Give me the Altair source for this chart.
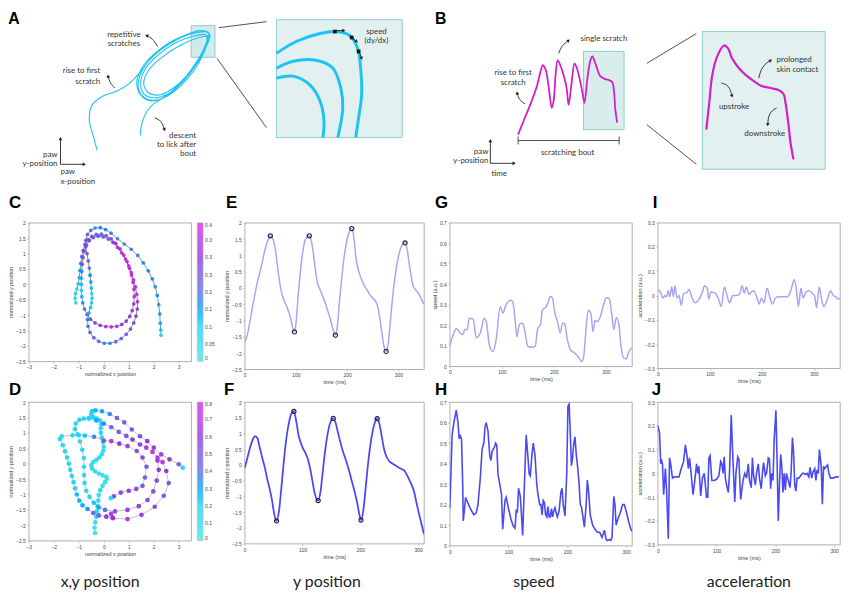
import math
import altair as alt
import pandas as pd

# ---------------- panel C: x/y trajectory with speed colour ----------------
c_pts = [
    (-1.12, -0.6, 0.05), (-1.15, -0.45, 0.06), (-1.13, -0.3, 0.07), (-1.08, -0.15, 0.09), (-1.02, 0.02, 0.11),
    (-0.98, 0.22, 0.13), (-0.95, 0.45, 0.16), (-0.92, 0.68, 0.19), (-0.88, 0.9, 0.22), (-0.83, 1.1, 0.24),
    (-0.75, 1.3, 0.25), (-0.63, 1.45, 0.24), (-0.48, 1.56, 0.22), (-0.3, 1.62, 0.2), (-0.1, 1.63, 0.2),
    (0.1, 1.58, 0.22), (0.3, 1.48, 0.26), (0.48, 1.33, 0.3), (0.65, 1.15, 0.33), (0.8, 0.95, 0.35),
    (0.93, 0.74, 0.37), (1.03, 0.52, 0.38), (1.11, 0.3, 0.38), (1.17, 0.07, 0.37), (1.21, -0.16, 0.36),
    (1.22, -0.4, 0.35), (1.2, -0.63, 0.33), (1.14, -0.85, 0.32), (1.04, -1.04, 0.3), (0.9, -1.19, 0.3),
    (0.72, -1.3, 0.32), (0.52, -1.36, 0.34), (0.3, -1.38, 0.36), (0.08, -1.37, 0.35), (-0.14, -1.33, 0.32),
    (-0.35, -1.25, 0.28), (-0.53, -1.13, 0.25), (-0.67, -0.98, 0.22), (-0.77, -0.8, 0.19), (-0.84, -0.6, 0.16),
    (-0.88, -0.4, 0.12), (-0.9, -0.2, 0.1),
    (-0.9, 0.0, 0.11), (-0.9, 0.2, 0.13), (-0.88, 0.42, 0.16), (-0.86, 0.65, 0.2), (-0.83, 0.87, 0.24),
    (-0.78, 1.08, 0.27), (-0.7, 1.27, 0.28), (-0.58, 1.42, 0.27), (-0.42, 1.52, 0.25), (-0.22, 1.56, 0.23),
    (-0.02, 1.54, 0.24), (0.18, 1.47, 0.27), (0.37, 1.36, 0.3), (0.55, 1.2, 0.33), (0.72, 1.02, 0.36),
    (0.87, 0.82, 0.38), (1.0, 0.6, 0.39), (1.1, 0.38, 0.39), (1.19, 0.15, 0.38), (1.27, -0.08, 0.37),
    (1.32, -0.32, 0.36), (1.35, -0.56, 0.35), (1.34, -0.8, 0.33), (1.29, -1.03, 0.3), (1.2, -1.25, 0.27),
    (1.07, -1.45, 0.24), (0.9, -1.62, 0.22), (0.7, -1.76, 0.2), (0.48, -1.86, 0.19), (0.25, -1.91, 0.18),
    (0.02, -1.91, 0.18), (-0.2, -1.85, 0.19), (-0.4, -1.73, 0.2), (-0.55, -1.56, 0.2), (-0.63, -1.36, 0.19),
    (-0.65, -1.14, 0.17), (-0.6, -0.93, 0.14), (-0.53, -0.75, 0.11), (-0.49, -0.6, 0.09), (-0.47, -0.45, 0.08),
    (-0.48, -0.3, 0.09), (-0.5, -0.12, 0.12),
    (-0.52, 0.08, 0.15), (-0.55, 0.3, 0.17), (-0.58, 0.53, 0.19), (-0.62, 0.76, 0.21), (-0.67, 1.0, 0.23),
    (-0.72, 1.22, 0.24), (-0.72, 1.43, 0.24), (-0.65, 1.62, 0.22), (-0.52, 1.75, 0.2), (-0.35, 1.83, 0.18),
    (-0.14, 1.84, 0.17), (0.07, 1.78, 0.17), (0.29, 1.66, 0.18), (0.55, 1.48, 0.18), (0.82, 1.31, 0.18),
    (1.1, 1.14, 0.18), (1.36, 0.94, 0.18), (1.58, 0.7, 0.17), (1.78, 0.44, 0.17), (1.94, 0.18, 0.17),
    (2.06, -0.08, 0.16), (2.14, -0.36, 0.16), (2.2, -0.66, 0.15), (2.24, -0.96, 0.15), (2.26, -1.26, 0.14),
    (2.28, -1.48, 0.12), (2.29, -1.65, 0.1),
]

# ---------------- panel D: strands of the trajectory ----------------
d_strand1 = [(-0.35, -2.25, 0.05), (-0.37, -2.08, 0.06), (-0.34, -1.9, 0.08), (-0.3, -1.72, 0.1), (-0.28, -1.55, 0.12),
             (-0.25, -1.38, 0.14), (-0.22, -1.2, 0.12), (-0.2, -1.02, 0.1), (-0.14, -0.86, 0.1), (-0.05, -0.72, 0.08),
             (0.05, -0.6, 0.07), (0.12, -0.5, 0.06)]
d_strand2 = [(0.1, -0.42, 0.06), (-0.05, -0.38, 0.07), (-0.2, -0.32, 0.08), (-0.35, -0.25, 0.09), (-0.47, -0.16, 0.1),
             (-0.5, -0.05, 0.1), (-0.42, 0.05, 0.1), (-0.3, 0.12, 0.1), (-0.18, 0.2, 0.1), (-0.08, 0.3, 0.1),
             (-0.02, 0.42, 0.1), (0.0, 0.55, 0.11), (-0.03, 0.7, 0.12), (-0.08, 0.85, 0.13), (-0.12, 1.0, 0.14),
             (-0.12, 1.15, 0.14), (-0.1, 1.28, 0.15), (-0.15, 1.4, 0.16), (-0.28, 1.46, 0.17), (-0.42, 1.5, 0.18),
             (-0.5, 1.6, 0.19), (-0.47, 1.7, 0.2)]
d_strand3 = [(-0.47, 1.7, 0.2), (-0.33, 1.73, 0.25), (-0.07, 1.7, 0.3), (0.24, 1.61, 0.35), (0.53, 1.48, 0.4),
             (0.82, 1.34, 0.45), (1.12, 1.11, 0.5), (1.45, 0.89, 0.55), (1.74, 0.73, 0.6), (2.0, 0.52, 0.65),
             (2.3, 0.3, 0.7), (2.63, 0.14, 0.6), (3.0, -0.02, 0.4), (3.16, -0.13, 0.2)]
d_strand4 = [(-0.6, 1.47, 0.2), (-0.3, 1.4, 0.28), (0.0, 1.3, 0.35), (0.3, 1.18, 0.42), (0.6, 1.03, 0.48),
             (0.9, 0.9, 0.55), (1.15, 0.78, 0.6), (1.45, 0.62, 0.62), (1.7, 0.52, 0.65), (1.95, 0.38, 0.7),
             (2.15, 0.2, 0.72), (2.35, 0.05, 0.7), (2.5, -0.24, 0.6), (2.6, -0.63, 0.5), (2.4, -1.04, 0.45),
             (2.04, -1.4, 0.55), (1.51, -1.66, 0.62), (0.95, -1.8, 0.7), (0.37, -1.77, 0.75), (0.29, -1.63, 0.7)]
d_strand5 = [(-1.75, 0.8, 0.1), (-1.68, 0.89, 0.12), (-1.25, 0.92, 0.15), (-1.0, 0.93, 0.18), (-0.76, 0.91, 0.22),
             (-0.39, 0.87, 0.35), (0.0, 0.75, 0.5), (0.3, 0.73, 0.7), (0.62, 0.65, 0.6), (0.95, 0.57, 0.55),
             (1.32, 0.41, 0.5), (1.55, 0.2, 0.55), (1.71, -0.1, 0.5), (1.65, -0.45, 0.45), (1.55, -0.72, 0.5),
             (1.3, -0.82, 0.55), (1.0, -0.88, 0.6), (0.68, -0.94, 0.65), (0.4, -1.06, 0.55), (0.28, -1.12, 0.1)]
d_strand6 = [(-1.75, 0.8, 0.1), (-1.64, 0.6, 0.12), (-1.55, 0.4, 0.14), (-1.47, 0.2, 0.15), (-1.4, 0.0, 0.15),
             (-1.34, -0.2, 0.16), (-1.28, -0.4, 0.17), (-1.21, -0.6, 0.18), (-1.15, -0.8, 0.2), (-1.08, -1.0, 0.22),
             (-0.98, -1.2, 0.25), (-0.85, -1.35, 0.3), (-0.65, -1.47, 0.35), (-0.42, -1.6, 0.4), (-0.2, -1.68, 0.5),
             (0.1, -1.72, 0.6), (0.35, -1.75, 0.65)]
d_strand7 = [(-0.6, 1.47, 0.2), (-0.8, 1.46, 0.2), (-0.98, 1.42, 0.18), (-1.12, 1.3, 0.17), (-1.15, 1.12, 0.15),
             (-1.05, 0.95, 0.14), (-0.95, 0.72, 0.14), (-0.86, 0.45, 0.14), (-0.8, 0.18, 0.13), (-0.79, -0.1, 0.13),
             (-0.79, -0.37, 0.13), (-0.77, -0.63, 0.14), (-0.7, -0.88, 0.15), (-0.57, -1.08, 0.18), (-0.4, -1.27, 0.22),
             (-0.2, -1.42, 0.28), (0.05, -1.5, 0.4), (0.45, -1.55, 0.55), (0.95, -1.5, 0.65), (1.4, -1.38, 0.62),
             (1.75, -1.18, 0.55), (1.98, -0.9, 0.5), (2.12, -0.55, 0.55), (2.2, -0.2, 0.6), (2.15, 0.1, 0.65)]
d_strands = [d_strand1, d_strand2, d_strand3, d_strand4, d_strand5, d_strand6, d_strand7]

# ---------------- time series (time ms, value) ----------------
e_pts = [(0, -1.65), (5, -1.45), (10, -1.05), (15, -0.6), (20, -0.2), (25, 0.2), (30, 0.5), (35, 0.85), (40, 1.2),
         (45, 1.45), (50, 1.6), (55, 1.5), (60, 1.15), (65, 0.55), (70, 0.0), (75, -0.32), (80, -0.5), (85, -0.7),
         (90, -0.95), (94, -1.25), (97, -1.35), (100, -1.1), (104, -0.3), (108, 0.4), (112, 0.95), (116, 1.35),
         (121, 1.55), (126, 1.6), (130, 1.45), (134, 1.05), (138, 0.55), (142, 0.15), (147, -0.05), (152, -0.25),
         (157, -0.45), (162, -0.7), (167, -0.95), (172, -1.25), (177, -1.45), (181, -1.15), (185, -0.4), (190, 0.4),
         (195, 1.05), (200, 1.5), (205, 1.75), (209, 1.82), (213, 1.55), (217, 0.95), (221, 0.6), (226, 0.35),
         (231, 0.15), (236, 0.0), (241, -0.12), (246, -0.25), (251, -0.33), (256, -0.42), (260, -0.6), (264, -0.95),
         (268, -1.4), (272, -1.8), (276, -1.95), (280, -1.7), (284, -1.1), (288, -0.4), (293, 0.3), (298, 0.8),
         (303, 1.15), (308, 1.33), (313, 1.38), (317, 1.2), (321, 0.75), (325, 0.35), (329, 0.05), (333, -0.05),
         (337, -0.12), (341, -0.22), (345, -0.35), (350, -0.5)]
e_marks = [(50, 1.6), (97, -1.35), (126, 1.6), (177, -1.45), (209, 1.82), (276, -1.95), (313, 1.38)]

f_pts = [(0, -0.1), (5, 0.25), (10, 0.6), (15, 0.85), (18, 0.92), (22, 0.85), (26, 0.55), (30, 0.25), (35, -0.1),
         (39, -0.45), (43, -0.75), (47, -1.1), (51, -1.55), (55, -1.78), (59, -1.5), (63, -0.8), (67, 0.0), (71, 0.7),
         (75, 1.2), (80, 1.6), (85, 1.7), (89, 1.4), (93, 0.95), (97, 0.7), (101, 0.52), (105, 0.38), (109, 0.2),
         (113, -0.1), (117, -0.5), (121, -0.9), (127, -1.13), (131, -0.85), (135, -0.2), (139, 0.45), (143, 0.95),
         (148, 1.35), (153, 1.48), (157, 1.35), (161, 1.05), (165, 0.75), (170, 0.42), (175, 0.15), (180, -0.15),
         (185, -0.5), (190, -0.85), (195, -1.25), (198, -1.55), (201, -1.75), (205, -1.45), (209, -0.75), (213, 0.0),
         (217, 0.6), (221, 1.05), (225, 1.35), (229, 1.47), (233, 1.3), (237, 0.9), (241, 0.5), (245, 0.27),
         (250, 0.12), (255, 0.05), (261, -0.02), (266, -0.08), (271, -0.13), (276, -0.18), (280, -0.3), (284, -0.45),
         (289, -0.65), (293, -0.86), (297, -1.2), (302, -1.6), (306, -1.9), (310, -2.2)]
f_marks = [(55, -1.78), (85, 1.7), (127, -1.13), (153, 1.48), (201, -1.75), (229, 1.47)]

g_pts = [(0, 0.1), (6, 0.15), (13, 0.185), (19, 0.165), (25, 0.155), (29, 0.18), (34, 0.18), (37, 0.235), (45, 0.23),
         (51, 0.14), (59, 0.165), (66, 0.235), (70, 0.22), (76, 0.105), (83, 0.072), (89, 0.13), (97, 0.29),
         (102, 0.26), (108, 0.3), (117, 0.322), (121, 0.314), (125, 0.24), (129, 0.145), (134, 0.206), (140, 0.21),
         (145, 0.16), (150, 0.097), (159, 0.093), (164, 0.097), (169, 0.185), (174, 0.2), (178, 0.274), (185, 0.29),
         (188, 0.306), (193, 0.341), (197, 0.335), (202, 0.258), (207, 0.217), (212, 0.164), (217, 0.212),
         (221, 0.206), (226, 0.129), (232, 0.08), (240, 0.064), (248, 0.043), (253, 0.024), (257, 0.043),
         (261, 0.161), (266, 0.274), (271, 0.258), (275, 0.169), (279, 0.225), (283, 0.217), (289, 0.242),
         (295, 0.298), (301, 0.335), (306, 0.33), (311, 0.258), (315, 0.18), (320, 0.238), (325, 0.2), (329, 0.097),
         (334, 0.04), (339, 0.037), (344, 0.072), (347, 0.084), (350, 0.09)]

h_pts = [(0, 0.18), (2, 0.35), (4, 0.54), (7, 0.6), (11, 0.66), (14, 0.6), (16, 0.52), (18, 0.535), (20, 0.52),
         (22, 0.3), (23, 0.12), (27, 0.235), (32, 0.2), (37, 0.17), (41, 0.15), (45, 0.16), (48, 0.2), (52, 0.33),
         (55, 0.47), (58, 0.5), (60, 0.58), (62, 0.6), (65, 0.56), (68, 0.44), (70, 0.415), (72, 0.46), (76, 0.48),
         (78, 0.5), (80, 0.49), (82, 0.35), (85, 0.3), (88, 0.25), (90, 0.08), (94, 0.22), (96, 0.235), (100, 0.18),
         (104, 0.13), (108, 0.095), (111, 0.085), (113, 0.17), (115, 0.165), (117, 0.28), (120, 0.24), (122, 0.15),
         (124, 0.05), (127, 0.3), (130, 0.54), (133, 0.43), (135, 0.35), (137, 0.34), (140, 0.45), (142, 0.5),
         (145, 0.44), (148, 0.3), (150, 0.25), (153, 0.2), (155, 0.2), (157, 0.15), (159, 0.22), (161, 0.21),
         (163, 0.15), (165, 0.14), (167, 0.19), (169, 0.14), (171, 0.14), (173, 0.18), (175, 0.14), (177, 0.17),
         (179, 0.185), (181, 0.16), (183, 0.14), (186, 0.17), (189, 0.26), (191, 0.28), (193, 0.2), (196, 0.145),
         (199, 0.35), (201, 0.68), (203, 0.69), (205, 0.55), (207, 0.39), (209, 0.43), (211, 0.5), (213, 0.53),
         (215, 0.45), (218, 0.37), (220, 0.3), (222, 0.2), (224, 0.19), (227, 0.13), (229, 0.09), (232, 0.2),
         (234, 0.32), (236, 0.27), (239, 0.15), (243, 0.1), (247, 0.08), (251, 0.065), (255, 0.065), (259, 0.04),
         (263, 0.075), (266, 0.03), (268, 0.025), (272, 0.03), (274, 0.025), (276, 0.04), (279, 0.24), (281, 0.2),
         (283, 0.1), (286, 0.13), (290, 0.16), (294, 0.2), (297, 0.2), (300, 0.17), (304, 0.12), (308, 0.08),
         (310, 0.07)]

i_pts = [(0, 0.025), (5, 0.015), (10, -0.01), (14, 0.0), (17, -0.005), (20, 0.02), (23, -0.005), (27, 0.035),
         (30, -0.005), (33, 0.04), (37, -0.01), (41, 0.0), (45, -0.04), (50, 0.01), (55, 0.01), (60, 0.025),
         (66, -0.01), (72, -0.03), (78, -0.02), (85, 0.01), (90, 0.04), (95, 0.03), (98, -0.015), (102, 0.015),
         (110, 0.01), (116, -0.01), (122, -0.045), (128, 0.035), (133, 0.0), (138, -0.03), (144, 0.0), (150, 0.0),
         (157, 0.005), (162, 0.04), (166, 0.01), (170, 0.035), (175, 0.005), (180, 0.015), (184, 0.02),
         (190, -0.005), (195, -0.035), (199, -0.01), (204, -0.03), (210, 0.03), (215, -0.005), (220, -0.035),
         (226, -0.01), (232, -0.005), (240, -0.005), (248, -0.005), (254, 0.01), (258, 0.04), (262, 0.065),
         (266, 0.03), (270, -0.045), (275, 0.03), (279, -0.01), (285, 0.015), (290, 0.02), (296, 0.01), (301, 0.0),
         (305, -0.05), (310, 0.035), (315, -0.02), (319, -0.045), (325, -0.02), (332, 0.02), (337, 0.0),
         (342, -0.005), (346, -0.015), (350, -0.01)]

j_pts = [(0, 0.2), (3, 0.17), (5, 0.04), (6, 0.06), (8, 0.04), (10, -0.09), (13, 0.02), (15, -0.07), (18, -0.275),
         (20, 0.065), (22, 0.04), (25, -0.02), (28, -0.015), (32, -0.015), (36, -0.015), (40, 0.02), (44, 0.05),
         (47, 0.12), (50, 0.07), (52, 0.02), (54, 0.065), (56, 0.02), (60, -0.09), (63, -0.03), (66, 0.04), (68, 0.0),
         (70, 0.03), (73, -0.095), (76, -0.02), (79, 0.0), (81, -0.05), (83, -0.1), (85, -0.1), (87, 0.065),
         (89, 0.075), (92, -0.03), (96, -0.03), (100, -0.025), (104, -0.01), (107, 0.05), (109, 0.04), (111, 0.0),
         (113, 0.07), (115, -0.02), (118, -0.06), (120, -0.08), (122, 0.0), (125, 0.245), (128, 0.05), (131, -0.12),
         (133, 0.0), (136, 0.07), (138, 0.06), (141, -0.11), (145, -0.03), (148, 0.0), (151, -0.02), (154, 0.04),
         (156, -0.03), (159, -0.06), (161, 0.065), (163, -0.01), (166, -0.05), (168, 0.0), (171, 0.04), (173, -0.02),
         (176, -0.065), (178, 0.0), (180, 0.045), (183, -0.01), (185, 0.0), (188, 0.065), (190, 0.06), (192, -0.065),
         (194, 0.0), (196, -0.03), (198, 0.14), (201, 0.265), (203, 0.05), (205, -0.2), (207, -0.05), (209, 0.08),
         (211, 0.03), (213, -0.08), (215, 0.0), (217, -0.07), (219, 0.0), (221, -0.02), (223, -0.04), (225, -0.06),
         (227, 0.01), (229, 0.15), (231, 0.09), (233, -0.05), (235, -0.075), (237, -0.02), (240, -0.02),
         (243, -0.01), (246, 0.0), (249, 0.0), (251, -0.005), (254, 0.0), (257, -0.015), (259, 0.025), (262, -0.02),
         (264, 0.005), (267, 0.02), (269, -0.03), (271, 0.015), (273, 0.0), (275, 0.1), (278, 0.03), (280, -0.13),
         (282, 0.03), (284, 0.02), (287, 0.03), (289, 0.035), (291, 0.0), (294, -0.02), (298, -0.02), (303, -0.015),
         (308, -0.015)]

# ---------------- schematic panels A and B (reference pixel frame) ----------------
a_loop = [(92, 143), (88, 128), (84, 112), (87, 97), (98, 88), (112, 83), (125, 75), (137, 62), (148, 48), (162, 36),
          (180, 27), (196, 22), (205, 25), (203, 33), (197, 48), (186, 64), (172, 80), (157, 91), (142, 91),
          (134, 82), (135, 68), (143, 54), (157, 41), (175, 30), (193, 24), (204, 24), (204, 32), (199, 46),
          (190, 62), (176, 78), (161, 89), (146, 93), (136, 87), (132, 75), (137, 60), (149, 46), (166, 34),
          (185, 26), (200, 23), (206, 27), (202, 38), (193, 55), (180, 72), (165, 85), (150, 90), (139, 86),
          (136, 74), (141, 60), (153, 47), (170, 35), (188, 28), (201, 26), (204, 29), (200, 40), (192, 54),
          (182, 68), (169, 80), (155, 87), (143, 84), (139, 75), (144, 62), (156, 50), (172, 39), (189, 31),
          (202, 28), (203, 31), (198, 44), (188, 61), (174, 77), (160, 89), (149, 96), (142, 104), (138, 113),
          (136, 122), (136, 128)]
a_zoom1 = [(273, 45), (293, 33), (317, 25), (333, 23), (347, 27), (355, 40), (358, 60), (359, 87), (356, 110), (353, 130)]
a_zoom2 = [(273, 60), (290, 53), (313, 52), (330, 60), (338, 80), (340, 100), (335, 130)]
a_zoom3 = [(273, 70), (290, 68), (307, 77), (317, 93), (321, 113), (320, 130)]
b_trace = [(517, 127), (523, 112), (530, 95), (536, 78), (540, 62), (542, 57), (545, 62), (548, 80), (551, 100),
           (553, 92), (555, 65), (557, 52), (560, 58), (563, 67), (566, 80), (568, 97), (571, 75), (574, 55),
           (577, 62), (579, 70), (582, 85), (584, 95), (587, 70), (590, 52), (592, 48), (595, 55), (600, 68),
           (605, 71), (609, 72), (612, 74), (614, 85), (615, 100), (617, 115)]
b_zoom = [(707, 122), (710, 95), (713, 67), (718, 48), (725, 37), (729, 40), (733, 50), (740, 60), (747, 67),
          (755, 73), (763, 78), (772, 80), (780, 82), (785, 86), (787, 95), (790, 117), (792, 135), (795, 152)]
boxes = [(187, 17, 211, 49, "#d3eaea"), (273, 11, 400, 130, "#e2f0f0"), (583, 43, 624, 122, "#d9eded"),
         (703, 23, 827, 162, "#e2f0f0")]
connectors = [(215, 19, 263, 13), (213, 50, 263, 120), (647, 55, 697, 25), (647, 117, 697, 157),
              (517, 133, 619, 133), (517, 129, 517, 137), (619, 129, 619, 137)]
arrows = [
    [(153, 38), (148, 30), (142, 27)], [(110, 80), (105, 75), (103, 68)], [(150, 110), (157, 113), (160, 122)],
    [(55, 157), (55, 131)], [(55, 157), (79, 157)],
    [(330, 22), (341, 22)], [(347, 28), (354, 33)], [(356, 42), (359, 50)],
    [(558, 45), (561, 37), (568, 32)], [(524, 96), (518, 92), (516, 85)], [(760, 70), (763, 58), (772, 52)],
    [(722, 75), (730, 77), (733, 88)], [(778, 100), (770, 105), (769, 117)],
    [(489, 156), (489, 133)], [(489, 156), (513, 156)],
]
speed_dots = [(332, 23), (349, 29), (356, 43)]
labels_center = [("repetitive", 119, 26), ("scratches", 119, 36), ("speed", 374, 23), ("(dy/dx)", 374, 33),
                 ("rise to first", 512, 65), ("scratch", 512, 75), ("upstroke", 735, 99), ("downstroke", 766, 126),
                 ("scratching bout", 567, 146), ("time", 498, 167)]
labels_right = [("rise to first", 95, 63), ("scratch", 95, 74), ("descent", 192, 128), ("to lick after", 192, 138),
                ("bout", 192, 147), ("paw", 52, 148), ("y-position", 52, 157), ("paw", 487, 145),
                ("y-position", 487, 154)]
labels_left = [("paw", 55, 165), ("x-position", 55, 175), ("single scratch", 580, 31), ("prolonged", 778, 52),
               ("skin contact", 778, 62)]
letters_ab = [("A", 8, 10), ("B", 439, 10)]
bottom_labels = [("x,y position", 95), ("y position", 324), ("speed", 533), ("acceleration", 750)]

# ---------------- styling ----------------
FONT = "Liberation Sans"
LAVENDER = "#a6a6f2"
BLUE = "#4a4af2"
CYAN = "#1fc3f2"
MAGENTA = "#d21fc8"
TRAJ_RANGE = ["#45e2e0", "#1ccff6", "#5a62e6", "#8a30d8", "#d61ee6"]
NOFRAME = alt.ViewBackground(strokeWidth=0, strokeOpacity=0)


def letter_title(txt, dx, offset):
    return alt.TitleParams(txt, anchor="start", frame="group", font=FONT, fontSize=17, fontWeight="bold",
                           color="#000", dx=dx, offset=offset)


def traj_panel(df, stops, legvals, letter, dx, offset, height, psize, lcolor, lwidth):
    xe = alt.X("x:Q", scale=alt.Scale(domain=[-3, 3.5], nice=False, zero=False),
               axis=alt.Axis(values=[-3, -2, -1, 0, 1, 2, 3], title="normalized x position", format="~g"))
    ye = alt.Y("y:Q", scale=alt.Scale(domain=[-2.5, 2], nice=False, zero=False),
               axis=alt.Axis(values=[-2.5, -2, -1.5, -1, -0.5, 0, 0.5, 1, 1.5, 2], title="normalized y position",
                             format="~g"))
    line = alt.Chart(df).mark_line(color=lcolor, strokeWidth=lwidth).encode(
        x=xe, y=ye, order="i:Q", detail="seg:N")
    pts = alt.Chart(df).mark_circle(size=psize, opacity=0.92).encode(
        x=xe, y=ye,
        color=alt.Color("s:Q", scale=alt.Scale(domain=stops, range=TRAJ_RANGE, clamp=True),
                        legend=alt.Legend(title=None, orient="none", legendX=170, legendY=0, direction="vertical",
                                          gradientLength=height, gradientThickness=6, values=legvals, format="~g",
                                          labelFontSize=5, labelFont=FONT, labelColor="#444", labelOffset=2,
                                          gradientOpacity=0.75, gradientStrokeColor="#aaa",
                                          gradientStrokeWidth=0.5, padding=0)))
    return alt.layer(line, pts).properties(width=164, height=height, title=letter_title(letter, dx, offset))


def ts_panel(pts, marks, xmax, ymin, ymax, yticks, color, sw, interp, ytitle, letter, dx, offset, width, height):
    df = pd.DataFrame(pts, columns=["t", "v"])
    xe = alt.X("t:Q", scale=alt.Scale(domain=[0, xmax], nice=False, zero=False),
               axis=alt.Axis(values=[0, 100, 200, 300], title="time (ms)"))
    ye = alt.Y("v:Q", scale=alt.Scale(domain=[ymin, ymax], nice=False, zero=False),
               axis=alt.Axis(values=yticks, title=ytitle, format="~g"))
    layers = [alt.Chart(df).mark_line(color=color, strokeWidth=sw, interpolate=interp, clip=True).encode(x=xe, y=ye)]
    if marks:
        mdf = pd.DataFrame(marks, columns=["t", "v"])
        layers.append(alt.Chart(mdf).mark_point(shape="circle", size=18, stroke="#1a1a2e", strokeWidth=1.1,
                                                filled=False, opacity=1).encode(x=xe, y=ye))
    return alt.layer(*layers).properties(width=width, height=height, title=letter_title(letter, dx, offset))


# ---------------- build data frames ----------------
c_df = pd.DataFrame([{"x": p[0], "y": p[1], "s": p[2], "i": k, "seg": 0} for k, p in enumerate(c_pts)])
d_rows = []
for sid, strand in enumerate(d_strands):
    for k, p in enumerate(strand):
        d_rows.append({"x": p[0], "y": p[1], "s": p[2], "i": k, "seg": sid})
d_df = pd.DataFrame(d_rows)

E_pos = [-2.5, -2, -1.5, -1, -0.5, 0, 0.5, 1, 1.5, 2]
speed_ticks = [0, 0.1, 0.2, 0.3, 0.4, 0.5, 0.6, 0.7]
acc_ticks = [-0.3, -0.2, -0.1, 0, 0.1, 0.2, 0.3]

R2_OFF, R3_OFF = 9, 1
panel_C = traj_panel(c_df, [0, 0.1, 0.2, 0.3, 0.4], [0, 0.05, 0.1, 0.15, 0.2, 0.25, 0.3, 0.35, 0.4],
                     "C", -20, R2_OFF, 140, 14, "#444", 0.6)
panel_D = traj_panel(d_df, [0, 0.2, 0.4, 0.6, 0.8], [0, 0.1, 0.2, 0.3, 0.4, 0.5, 0.6, 0.7, 0.8],
                     "D", -20, R3_OFF, 140, 22, "#bbbbbb", 0.9)
panel_E = ts_panel(e_pts, e_marks, 350, -2.5, 2, E_pos, LAVENDER, 1.5, "monotone", "normalized y position",
                   "E", -19, R2_OFF, 181, 148)
panel_F = ts_panel(f_pts, f_marks, 310, -2.5, 2, E_pos, BLUE, 1.8, "monotone", "normalized y position",
                   "F", -21, R3_OFF, 181, 143)
panel_G = ts_panel(g_pts, None, 350, 0, 0.7, speed_ticks, LAVENDER, 1.5, "monotone", "speed (a.u.)",
                   "G", -15, R2_OFF, 184, 145)
panel_H = ts_panel(h_pts, None, 310, 0, 0.7, speed_ticks, BLUE, 1.6, "linear", "",
                   "H", -15, R3_OFF, 184, 145)
panel_I = ts_panel(i_pts, None, 350, -0.3, 0.3, acc_ticks, LAVENDER, 1.5, "monotone", "acceleration (a.u.)",
                   "I", -5, R2_OFF, 184, 147)
panel_J = ts_panel(j_pts, None, 310, -0.3, 0.3, acc_ticks, BLUE, 1.6, "linear", "acceleration (a.u.)",
                   "J", -6, R3_OFF, 184, 144)

# schematic row (one grid cell, its marks spill across the row)
X0, X1 = 23, 215
px_x = alt.X("x:Q", scale=alt.Scale(domain=[X0, X1], nice=False, zero=False), axis=None)
px_y = alt.Y("y:Q", scale=alt.Scale(domain=[2, 183], reverse=True, nice=False, zero=False), axis=None)

box_df = pd.DataFrame([{"x": b[0], "y": b[1], "x2": b[2], "y2": b[3], "f": b[4]} for b in boxes])
box_layer = alt.Chart(box_df).mark_rect(stroke="#8ecccc", strokeWidth=1).encode(
    x=px_x, y=px_y, x2="x2:Q", y2="y2:Q", fill=alt.Fill("f:N", scale=None))
con_df = pd.DataFrame([{"x": c[0], "y": c[1], "x2": c[2], "y2": c[3]} for c in connectors])
con_layer = alt.Chart(con_df).mark_rule(color="#222", strokeWidth=0.8).encode(x=px_x, y=px_y, x2="x2:Q", y2="y2:Q")

curve_rows = []
for sid, (pts, col, w) in enumerate([(a_loop, CYAN, 1.1), (a_zoom1, CYAN, 3.0), (a_zoom2, CYAN, 3.0),
                                     (a_zoom3, CYAN, 3.0), (b_trace, MAGENTA, 1.8), (b_zoom, MAGENTA, 2.2)]):
    for k, p in enumerate(pts):
        curve_rows.append({"x": p[0], "y": p[1], "i": k, "seg": sid, "c": col, "w": w})
curve_layer = alt.Chart(pd.DataFrame(curve_rows)).mark_line(interpolate="catmull-rom").encode(
    x=px_x, y=px_y, order="i:Q", detail="seg:N", color=alt.Color("c:N", scale=None),
    strokeWidth=alt.StrokeWidth("w:Q", scale=None))

arrow_rows, head_rows = [], []
for aid, arr in enumerate(arrows):
    for k, p in enumerate(arr):
        arrow_rows.append({"x": p[0], "y": p[1], "i": k, "seg": aid})
    (px, py), (ex, ey) = arr[-2], arr[-1]
    ang = math.degrees(math.atan2(ex - px, -(ey - py))) % 360
    head_rows.append({"x": ex, "y": ey, "ang": ang})
arrow_layer = alt.Chart(pd.DataFrame(arrow_rows)).mark_line(color="#222", strokeWidth=0.9,
                                                            interpolate="basis").encode(
    x=px_x, y=px_y, order="i:Q", detail="seg:N")
head_layer = alt.Chart(pd.DataFrame(head_rows)).mark_point(shape="triangle-up", filled=True, size=14,
                                                           color="#222", opacity=1).encode(
    x=px_x, y=px_y, angle=alt.Angle("ang:Q", scale=None))
dot_layer = alt.Chart(pd.DataFrame(speed_dots, columns=["x", "y"])).mark_square(size=14, color="#111",
                                                                                  opacity=1).encode(x=px_x, y=px_y)


def text_layer(rows, align):
    df = pd.DataFrame(rows, columns=["t", "x", "y"])
    return alt.Chart(df).mark_text(align=align, baseline="middle", font="Lato", fontSize=8,
                                   color="#333").encode(x=px_x, y=px_y, text="t:N")


letter_layer = alt.Chart(pd.DataFrame(letters_ab, columns=["t", "x", "y"])).mark_text(
    align="center", baseline="middle", font=FONT, fontSize=16, fontWeight="bold", color="#000").encode(
    x=px_x, y=px_y, text="t:N")

row1 = alt.layer(box_layer, con_layer, curve_layer, arrow_layer, head_layer, dot_layer,
                 text_layer(labels_center, "center"), text_layer(labels_right, "right"),
                 text_layer(labels_left, "left"), letter_layer).properties(
    width=X1 - X0, height=181, view=NOFRAME)

bl_df = pd.DataFrame([{"t": b[0], "x": b[1], "y": 583} for b in bottom_labels])
row4 = alt.Chart(bl_df).mark_text(align="center", baseline="middle", font="Lato", fontSize=16,
                                  color="#222").encode(
    x=alt.X("x:Q", scale=alt.Scale(domain=[X0, X1], nice=False, zero=False), axis=None),
    y=alt.Y("y:Q", scale=alt.Scale(domain=[579, 591], reverse=True, nice=False, zero=False), axis=None),
    text="t:N").properties(width=X1 - X0, height=12, view=NOFRAME)

filler_df = pd.DataFrame({"x": [0]})


def filler():
    return alt.Chart(filler_df).mark_point(opacity=0, size=0, strokeWidth=0).encode(
        x=alt.X("x:Q", axis=None), y=alt.Y("x:Q", axis=None)).properties(width=1, height=1, view=NOFRAME)


cells = [row1, filler(), filler(), filler(),
         panel_C, panel_E, panel_G, panel_I,
         panel_D, panel_F, panel_H, panel_J,
         row4, filler(), filler(), filler()]

chart = alt.concat(*cells, columns=4, bounds="flush", spacing={"row": 33, "column": 26}, padding=0).resolve_scale(
    x="independent", y="independent", color="independent").resolve_legend(color="independent").configure_axis(
    labelFont=FONT, titleFont=FONT, labelFontSize=5, titleFontSize=5.5, labelColor="#444", titleColor="#444",
    titleFontWeight="normal", grid=False, domain=False, ticks=True, tickSize=2, tickColor="#999", tickWidth=0.5,
    labelPadding=1.5, titlePadding=2, labelFlush=False).configure_view(stroke="#8c8c8c", strokeWidth=0.7)

chart.save("out.html", embed_options={"renderer": "svg", "actions": False})
